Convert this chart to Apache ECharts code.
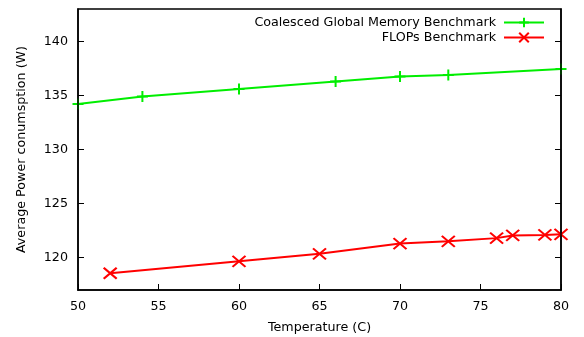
<!DOCTYPE html>
<html>
<head>
<meta charset="utf-8">
<script src="https://cdn.jsdelivr.net/npm/echarts@6/dist/echarts.min.js"></script>
<style>
html,body{margin:0;padding:0;background:#fff;}
#chart{width:584px;height:337px;}
</style>
</head>
<body>
<div id="chart"></div>
<script>
// Temperature (C) at each measurement
const memTemps = [50, 54, 60, 66, 70, 73, 80];
const memPower = [134.2, 134.9, 135.6, 136.3, 136.75, 136.9, 137.45];

const flopsTemps = [52, 60, 65, 70, 73, 76, 77, 79, 80];
const flopsPower = [118.55, 119.65, 120.35, 121.3, 121.5, 121.8, 122.05, 122.1, 122.15];

const xTicks = [50, 55, 60, 65, 70, 75, 80];
const yTicks = [120, 125, 130, 135, 140];

const seriesNames = ['Coalesced Global Memory Benchmark', 'FLOPs Benchmark'];

const FONT = 'DejaVu Sans';
const FS = 12.7;
const plusPath = 'path://M0,5L10,5M5,0L5,10';
const crossPath = 'path://M0,0L10,10M10,0L0,10';

const pairs = (xs, ys) => xs.map((x, i) => [x, ys[i]]);

const chart = echarts.init(document.getElementById('chart'), null, {renderer: 'canvas'});

const axisLine = {show: true, lineStyle: {color: '#000', width: 1.5}};
const legendText = {fontFamily: FONT, fontSize: FS, color: '#000', padding: [0, 3, 0, 0]};

chart.setOption({
  animation: false,
  backgroundColor: '#fff',
  grid: {left: 78, right: 23, top: 9, bottom: 47, outerBoundsMode: 'none', containLabel: false},
  legend: [
    {
      data: [seriesNames[0]], right: 34, top: 11, align: 'right',
      itemWidth: 40, itemHeight: 12, itemGap: 0, textStyle: legendText
    },
    {
      data: [seriesNames[1]], right: 34, top: 26, align: 'right',
      itemWidth: 40, itemHeight: 12, itemGap: 0, textStyle: legendText
    }
  ],
  xAxis: {
    type: 'value', min: 50, max: 80, interval: 5,
    name: 'Temperature (C)', nameLocation: 'middle', nameGap: 31,
    nameTextStyle: {fontFamily: FONT, fontSize: FS, color: '#000'},
    axisLine: axisLine,
    axisTick: {inside: true, length: 6, lineStyle: {color: '#000', width: 1}, customValues: xTicks},
    axisLabel: {fontFamily: FONT, fontSize: FS, color: '#000', margin: 10, customValues: xTicks},
    splitLine: {show: false}
  },
  yAxis: [
    {
      type: 'value', min: 117, max: 143,
      name: 'Average Power conumsption (W)', nameLocation: 'middle', nameGap: 50,
      nameTextStyle: {fontFamily: FONT, fontSize: FS, color: '#000'},
      axisLine: axisLine,
      axisTick: {inside: true, length: 6, lineStyle: {color: '#000', width: 1}, customValues: yTicks},
      axisLabel: {fontFamily: FONT, fontSize: FS, color: '#000', margin: 10, customValues: yTicks},
      splitLine: {show: false}
    },
    {
      type: 'value', min: 117, max: 143, position: 'right',
      axisLine: axisLine,
      axisTick: {inside: true, length: 6, lineStyle: {color: '#000', width: 1}, customValues: yTicks},
      axisLabel: {show: false},
      splitLine: {show: false}
    }
  ],
  graphic: [{
    type: 'rect', shape: {x: 78, y: 9, width: 483, height: 281},
    style: {fill: 'none', stroke: '#000', lineWidth: 1.5}, z: 100, silent: true
  }],
  series: [
    {
      name: seriesNames[0], type: 'line', data: pairs(memTemps, memPower),
      symbol: plusPath, symbolSize: 11, showAllSymbol: true,
      lineStyle: {color: '#00ee00', width: 2},
      itemStyle: {color: '#00ee00', borderColor: '#00ee00', borderWidth: 2},
      z: 3
    },
    {
      name: seriesNames[1], type: 'line', data: pairs(flopsTemps, flopsPower),
      symbol: crossPath, symbolSize: [13, 11], showAllSymbol: true,
      lineStyle: {color: '#ff0000', width: 2},
      itemStyle: {color: '#ff0000', borderColor: '#ff0000', borderWidth: 2},
      z: 3
    }
  ]
});
</script>
</body>
</html>
